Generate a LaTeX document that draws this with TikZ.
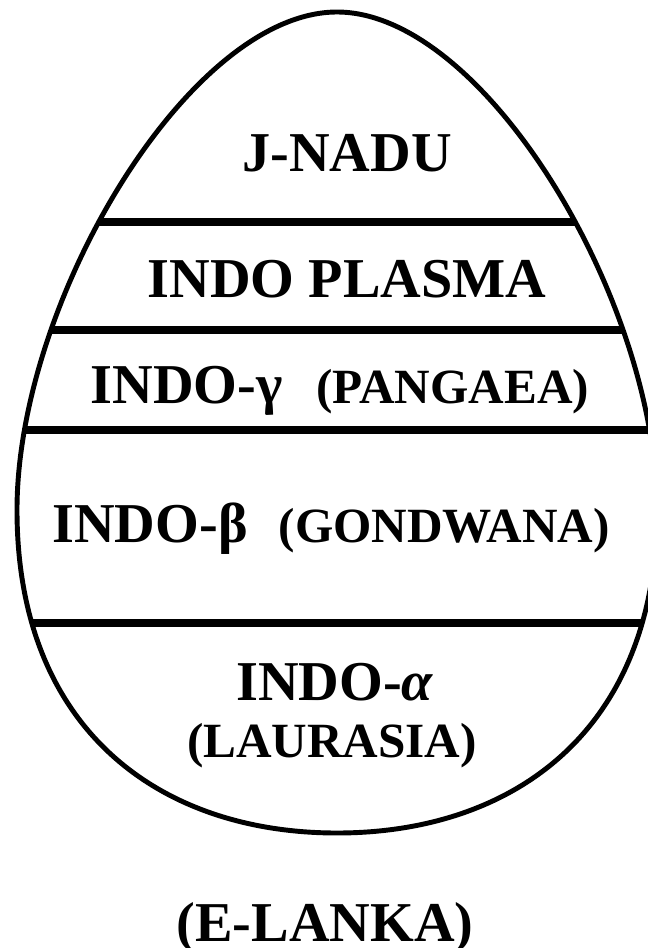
\documentclass[tikz,border=0pt]{standalone}
\usepackage{fontspec}
\setmainfont{Liberation Serif}
\newcommand{\smalltxt}[1]{{\fontsize{14}{17}\selectfont #1}}

\begin{document}
\begin{tikzpicture}[x=0.01cm, y=-0.01cm,
    big/.style={font=\fontsize{16}{19}\selectfont\bfseries, anchor=base, inner sep=0pt},
    small/.style={font=\fontsize{14}{17}\selectfont\bfseries, anchor=base, inner sep=0pt},
    layer/.style={line width=2pt},
    shell/.style={line width=1.4pt}]
    \useasboundingbox (0,0) rectangle (647,948);
    \def\eggpath{(17,510) .. controls (17,300) and (190,12) .. (337,12)
        .. controls (484,12) and (657,300) .. (657,510)
        .. controls (657,730) and (514,833) .. (337,833)
        .. controls (160,833) and (17,730) .. (17,510) -- cycle}
    % layers
    \begin{scope}
        \clip \eggpath;
        \foreach \y in {222,330,430,623}
            \draw[layer] (0,\y) -- (700,\y);
    \end{scope}
    \draw[shell] \eggpath;
    % labels
    \node[big] (jnadu) at (347,171) {J-NADU};
    \node[big] (plasma) at (347,297) {INDO PLASMA};
    \node[big] (gamma) at (340,403) {INDO-γ\hspace{0.6em}\smalltxt{(PANGAEA)}};
    \node[big] (beta) at (331,542) {INDO-β\hspace{0.55em}\smalltxt{(GONDWANA)}};
    \node[big] (alpha) at (335,700) {INDO-\textit{α}};
    \node[small] (laurasia) at (332,757) {(LAURASIA)};
    \node[big] (elanka) at (325,941) {(E-LANKA)};
\end{tikzpicture}
\end{document}
